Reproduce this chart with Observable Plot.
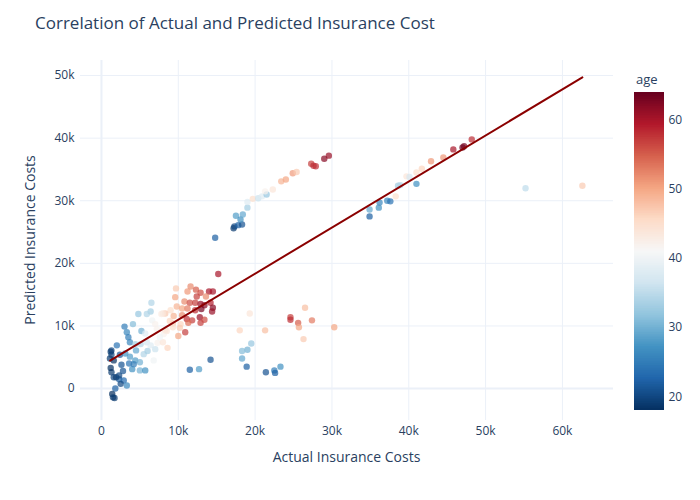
<!DOCTYPE html>
<html>
<head>
<meta charset="utf-8">
<script src="https://cdn.jsdelivr.net/npm/d3@7"></script>
<script src="https://cdn.jsdelivr.net/npm/@observablehq/plot@0.6"></script>
<style>
  body { margin: 0; background: #fff; }
  #wrap { position: relative; width: 700px; height: 500px; font-family: "Open Sans", sans-serif; color: #2a3f5f; }
  .abs { position: absolute; white-space: nowrap; }
</style>
</head>
<body>
<div id="wrap">
  <div id="chart" class="abs" style="left:0;top:0"></div>
  <div id="cbar" class="abs" style="left:634px;top:92px"></div>
  <div class="abs" style="left:35px;top:11px;font-size:17px;line-height:23px;">Correlation of Actual and Predicted Insurance Cost</div>
  <div class="abs" style="left:80px;top:447px;width:533px;text-align:center;font-size:14px;line-height:20px;">Actual Insurance Costs</div>
  <div class="abs" style="left:30px;top:240px;font-size:14px;line-height:20px;transform:translate(-50%,-50%) rotate(-90deg);">Predicted Insurance Costs</div>
  <div class="abs" style="left:636px;top:70px;font-size:13px;line-height:18px;">age</div>
</div>
<script>
// Actual cost ($), predicted cost ($), age
const actual = [
  14800,17200,17300,17800,18300,17500,18100,18400,19000,19000,19700,20400,20900,21500,21300,22300,23400,24000,24900,25400,27300,27600,27900,29000,29600,
  34900,34900,36100,36200,37200,37600,38300,38600,38900,39700,40100,41000,41000,41700,42900,44500,45800,47000,47200,48200,55200,62600,
  19300,18000,21300,19500,19000,18300,18300,18900,21400,22500,22600,23300,24600,24600,25600,25700,26500,27400,26300,30300,11500,12700,14200,15200,
  11600,12300,11200,9700,12900,14000,14500,13600,12400,9600,10800,11500,12200,12900,13400,14200,9800,10500,11200,12200,13000,14500,14400,9000,8300,9400,10500,11100,11800,12800,13400,12900,11300,10300,9300,8000,10200,10900,10000,8500,8100,
  6500,6400,4800,5900,7800,4100,3000,6600,7000,5200,5700,7200,8300,3300,3500,3700,4400,5100,5900,6400,7000,7300,8600,8000,2000,1300,1300,2400,3100,3700,4400,5000,5500,6800,4000,5000,1600,1300,1600,2300,2900,3300,2500,1800,1400,1500,1700,1900,2300,5700,
  1100,1200,2600,3600,4200,2800,1200,4500,6000,7600,8900,9300
];
const predicted = [
  24100,25600,25900,26100,26200,27600,27000,27800,28900,29800,30300,30400,30700,31000,31500,31800,33100,33400,34400,34600,35900,35600,35500,36700,37200,
  27500,28600,28900,29700,30000,29900,30700,32400,32500,33900,33800,34500,32700,35100,36300,36900,38200,38500,38700,39800,32000,32400,
  12000,9300,9300,7200,6200,6000,4800,3500,2600,2900,2500,3500,11400,11000,10500,9800,12900,10900,7900,9800,3000,3100,4600,18300,
  16300,15800,15500,16000,15300,15500,15500,14700,14700,14600,13900,13700,13700,13500,13300,13700,13100,12800,12800,12500,12700,12900,12300,12500,12000,11600,11700,11100,10900,11400,11000,10500,10500,10300,10400,12000,9700,9000,8400,9200,8700,
  13700,12300,11900,11900,11900,10300,9900,10900,10300,9200,8800,9500,9300,9000,8200,7400,7100,7100,7400,6900,6300,7300,6500,7400,6900,6100,5400,5400,5600,5100,4500,4200,5500,4500,3100,2900,4500,2600,1800,1500,1300,500,750,0,-850,-1400,-1500,1800,2100,2900,
  4800,3300,3800,4000,3900,2800,5900,6100,6000,8200,10800,9800
];
const age = [
  22,19,20,22,21,28,27,29,33,38,45,36,38,32,42,44,49,50,51,47,57,58,58,62,61,
  22,29,27,26,26,24,45,33,34,44,37,45,27,46,51,51,60,64,63,58,35,47,
  44,46,48,32,30,31,29,22,21,25,22,27,57,58,55,50,48,53,47,50,22,28,21,60,
  52,55,51,47,56,60,60,52,57,50,52,56,57,61,62,59,49,50,53,58,63,62,61,45,47,49,52,58,57,61,56,57,54,46,47,44,47,57,50,44,42,
  34,33,32,34,43,31,25,40,42,30,38,42,44,26,25,26,33,34,37,38,36,42,46,44,24,20,20,21,27,28,28,30,34,40,27,30,18,19,20,22,23,26,20,22,18,19,19,19,20,27,
  19,18,21,24,25,21,19,29,33,40,46,45
];
// Fitted line end points
const fitX = [1120, 62600];
const fitY = [4470, 49700];

const xTicks = [0, 10000, 20000, 30000, 40000, 50000, 60000];
const yTicks = [0, 10000, 20000, 30000, 40000, 50000];
const ageTicks = [20, 30, 40, 50, 60];
const ageRange = [18, 64];
const rdbuColors = ["rgb(5,48,97)","rgb(33,102,172)","rgb(67,147,195)","rgb(146,197,222)","rgb(209,229,240)","rgb(247,247,247)","rgb(253,219,199)","rgb(244,165,130)","rgb(214,96,77)","rgb(178,24,43)","rgb(103,0,31)"];

const stops = rdbuColors.map((c, i) => ageRange[0] + i * (ageRange[1] - ageRange[0]) / (rdbuColors.length - 1));
const colorScale = { type: "linear", domain: stops, range: rdbuColors, interpolate: "rgb" };

const points = actual.map((a, i) => ({ actual: a, predicted: predicted[i], age: age[i] }));
const kfmt = d => d === 0 ? "0" : (d / 1000) + "k";
const gridColor = "#ebf0f8";

const chart = Plot.plot({
  width: 700,
  height: 500,
  marginLeft: 80,
  marginRight: 87,
  marginTop: 60,
  marginBottom: 80,
  style: { fontFamily: "Open Sans, sans-serif", fontSize: "12px", color: "#2a3f5f", background: "white" },
  x: { domain: [-2730, 66650], ticks: xTicks, tickFormat: kfmt, tickSize: 0, tickPadding: 6, label: null },
  y: { domain: [-5100, 52400], ticks: yTicks, tickFormat: kfmt, tickSize: 0, tickPadding: 6, label: null },
  color: colorScale,
  marks: [
    Plot.ruleX(xTicks.filter(d => d !== 0), { stroke: gridColor, strokeWidth: 1 }),
    Plot.ruleY(yTicks.filter(d => d !== 0), { stroke: gridColor, strokeWidth: 1 }),
    Plot.ruleX([0], { stroke: gridColor, strokeWidth: 2 }),
    Plot.ruleY([0], { stroke: gridColor, strokeWidth: 2 }),
    Plot.dot(points, { x: "actual", y: "predicted", fill: "age", r: 3.2, fillOpacity: 0.7, stroke: "none" }),
    Plot.line(fitX.map((x, i) => ({ x, y: fitY[i] })), { x: "x", y: "y", stroke: "darkred", strokeWidth: 2 })
  ]
});
document.getElementById("chart").appendChild(chart);

const step = 0.25;
const steps = d3.range(ageRange[0], ageRange[1], step);
const cbar = Plot.plot({
  width: 62,
  height: 318,
  marginLeft: 0,
  marginRight: 32,
  marginTop: 0,
  marginBottom: 0,
  style: { fontFamily: "Open Sans, sans-serif", fontSize: "12px", color: "#2a3f5f", background: "transparent" },
  x: { domain: [0, 1], axis: null },
  y: { domain: ageRange, ticks: ageTicks, axis: "right", tickSize: 0, tickPadding: 4, label: null },
  color: colorScale,
  marks: [
    Plot.rect(steps, { x1: () => 0, x2: () => 1, y1: d => d, y2: d => Math.min(d + step * 1.6, ageRange[1]), fill: d => d + step / 2 })
  ]
});
document.getElementById("cbar").appendChild(cbar);
</script>
</body>
</html>
